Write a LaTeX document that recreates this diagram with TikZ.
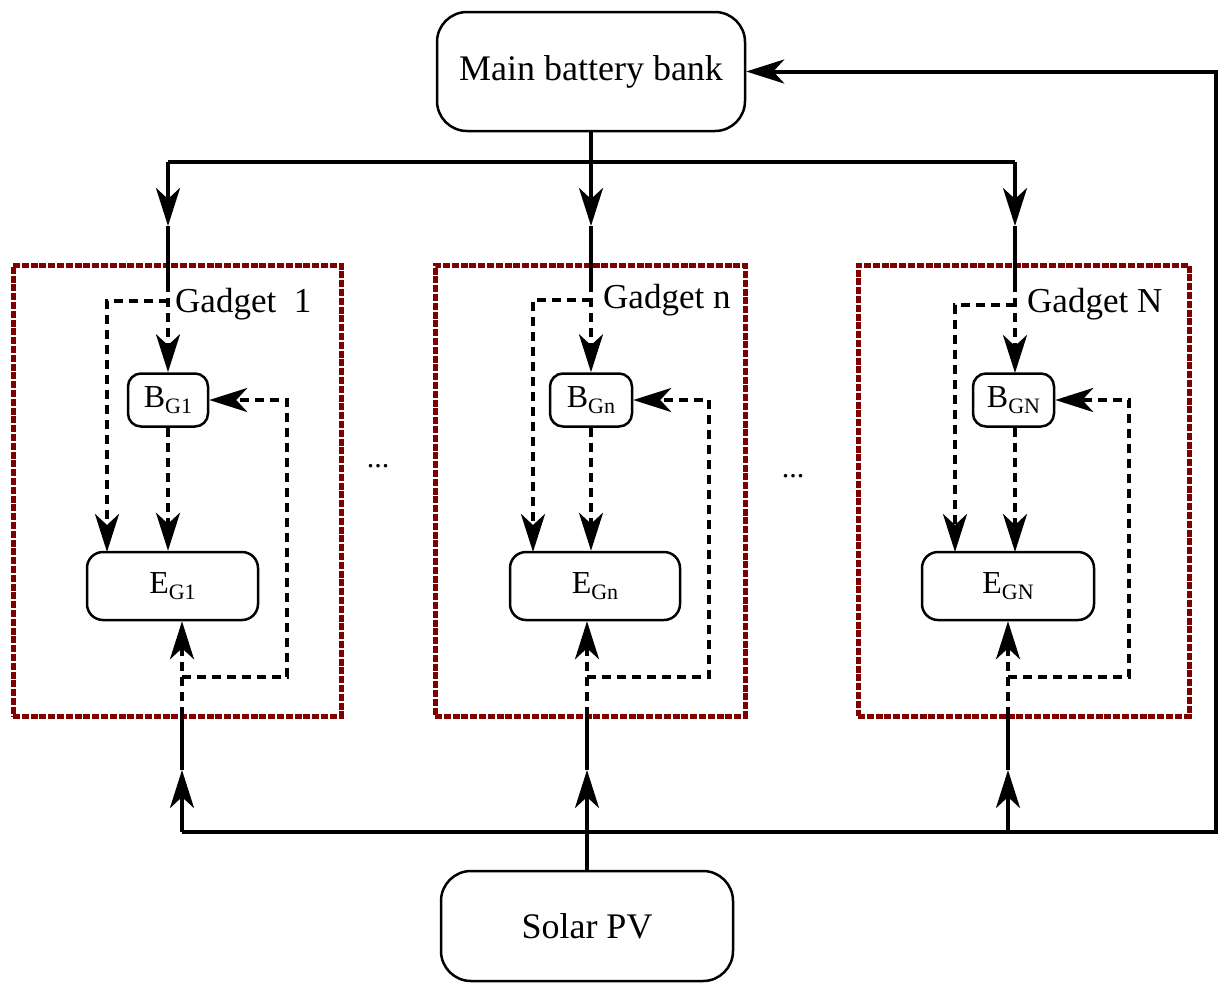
\documentclass[tikz,border=0pt]{standalone}
\usepackage{fontspec}
\setmainfont{Liberation Serif}
\usetikzlibrary{arrows.meta}
\definecolor{framered}{RGB}{128,0,0}
\newcommand{\gsub}[1]{\raisebox{-0.45ex}{\fontsize{22}{24}\selectfont #1}}
\tikzset{
  >={Stealth[length=38pt,width=24pt,inset=11pt]},
  bigbox/.style={draw,line width=2.5pt,rounded corners=30pt,inner sep=0pt,
    font=\fontsize{36}{42}\selectfont},
  smallbox/.style={draw,line width=2.5pt,rounded corners=13pt,inner sep=0pt,
    minimum height=53pt,font=\fontsize{32}{36}\selectfont},
  ebox/.style={draw,line width=2.5pt,rounded corners=16pt,inner sep=0pt,
    minimum height=68pt,font=\fontsize{32}{36}\selectfont},
  frame/.style={draw=framered,line width=5pt,dash pattern=on 7pt off 1.8pt,
    inner sep=0pt},
  power/.style={line width=4pt},
  flow/.style={line width=4pt,dash pattern=on 9pt off 6pt},
  tag/.style={anchor=west,inner sep=0pt,font=\fontsize{35}{40}\selectfont}
}
\begin{document}
\begin{tikzpicture}[x=1pt,y=-1pt]
  \useasboundingbox (0,0) rectangle (1218,983);
  % sources
  \node[bigbox,minimum width=308pt,minimum height=119pt] (main) at (591,71.5) {Main battery bank};
  \node[bigbox,minimum width=292pt,minimum height=110pt] (solar) at (587,926) {Solar PV};
  % gadget frames
  \node[frame,minimum width=328pt,minimum height=451pt] (f1) at (177,490.5) {};
  \node[frame,minimum width=310pt,minimum height=451pt] (fn) at (590,490.5) {};
  \node[frame,minimum width=331pt,minimum height=451pt] (fN) at (1023.5,490.5) {};
  \node[tag] (l1) at (175,304) {Gadget\ \ 1};
  \node[tag] (ln) at (603,300) {Gadget n};
  \node[tag] (lN) at (1027,304) {Gadget N};
  \node[font=\fontsize{30}{34}\selectfont] (d1) at (378,466) {...};
  \node[font=\fontsize{30}{34}\selectfont] (d2) at (793,476) {...};
  % gadget storage and loads
  \node[smallbox,minimum width=80pt] (B1) at (168,400) {B\gsub{G1}};
  \node[ebox,minimum width=171pt] (E1) at (172.5,586) {E\gsub{G1}};
  \node[smallbox,minimum width=82pt] (Bn) at (591,400) {B\gsub{Gn}};
  \node[ebox,minimum width=170pt] (En) at (595,586) {E\gsub{Gn}};
  \node[smallbox,minimum width=81pt] (BN) at (1013.5,400) {B\gsub{GN}};
  \node[ebox,minimum width=172pt] (EN) at (1008,586) {E\gsub{GN}};
  % main battery bus
  \coordinate (bus1) at (168,162);
  \coordinate (busN) at (1015,162);
  \draw[power] (bus1) -- (busN);
  \draw[power,->] (main.south) -- (591,226) coordinate (inn);
  \draw[power] (inn) -- (591,283) coordinate (topn);
  \draw[power,->] (bus1) -- (168,226) coordinate (in1);
  \draw[power] (in1) -- (168,283) coordinate (top1);
  \draw[power,->] (busN) -- (1015,226) coordinate (inN);
  \draw[power] (inN) -- (1015,283) coordinate (topN);
  % solar bus
  \coordinate (low1) at (182,832);
  \coordinate (lowN) at (1008,832);
  \draw[power,->] (low1) -- (1216,832) -- (1216,71.5) -- (main.east);
  \draw[power,->] (low1) -- (182,770) coordinate (up1);
  \draw[power] (up1) -- (182,716) coordinate (bot1);
  \draw[power,->] (solar.north) -- (587,770) coordinate (upn);
  \draw[power] (upn) -- (587,716) coordinate (botn);
  \draw[power,->] (lowN) -- (1008,770) coordinate (upN);
  \draw[power] (upN) -- (1008,716) coordinate (botN);
  % gadget 1
  \draw[flow,->] (top1) -- (B1.north);
  \draw[flow,->] (168,301) -| (107,552);
  \draw[flow,->] (B1.south) -- (B1.south |- E1.north);
  \draw[flow,->] (bot1) -- (bot1 |- E1.south);
  \draw[flow,->] (182,677) -| (287,400) -- (B1.east);
  % gadget n
  \draw[flow,->] (topn) -- (Bn.north);
  \draw[flow,->] (591,300) -| (533,552);
  \draw[flow,->] (Bn.south) -- (Bn.south |- En.north);
  \draw[flow,->] (botn) -- (botn |- En.south);
  \draw[flow,->] (587,677) -| (709,400) -- (Bn.east);
  % gadget N
  \draw[flow,->] (topN) -- (1015,373);
  \draw[flow,->] (1015,305) -| (955,552);
  \draw[flow,->] (BN.south -| 1015,0) -- (1015,552);
  \draw[flow,->] (botN) -- (botN |- EN.south);
  \draw[flow,->] (1008,677) -| (1129,400) -- (BN.east);
\end{tikzpicture}
\end{document}
